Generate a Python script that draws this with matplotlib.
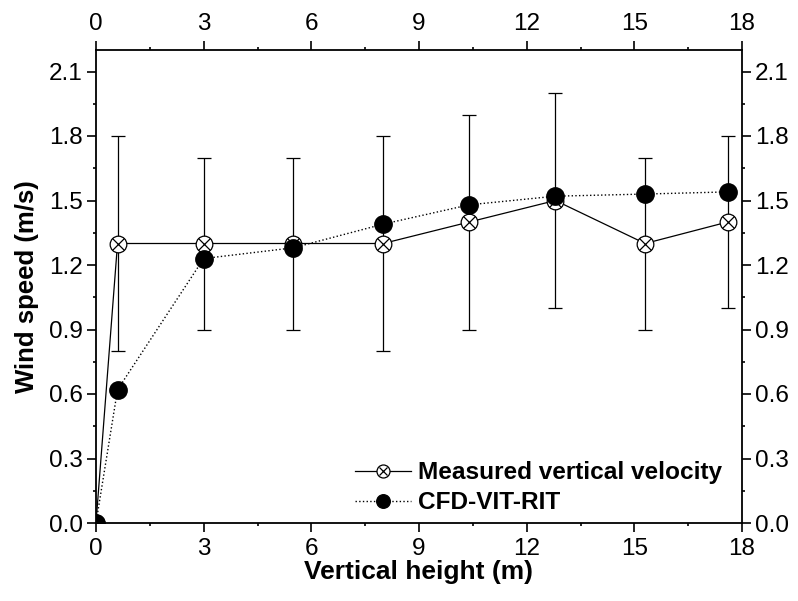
import matplotlib
matplotlib.use("Agg")
import matplotlib.pyplot as plt
from matplotlib.ticker import MultipleLocator
from matplotlib.legend_handler import HandlerTuple

plt.rcParams['font.family'] = ['Liberation Sans', 'DejaVu Sans']

height_meas = [0, 0.6, 3.0, 5.5, 8.0, 10.4, 12.8, 15.3, 17.6]
speed_meas = [0.0, 1.3, 1.3, 1.3, 1.3, 1.4, 1.5, 1.3, 1.4]
err_low = [0.0, 0.8, 0.9, 0.9, 0.8, 0.9, 1.0, 0.9, 1.0]
err_high = [0.0, 1.8, 1.7, 1.7, 1.8, 1.9, 2.0, 1.7, 1.8]

height_cfd = [0, 0.6, 3.0, 5.5, 8.0, 10.4, 12.8, 15.3, 17.6]
speed_cfd = [0.0, 0.62, 1.23, 1.28, 1.39, 1.48, 1.52, 1.53, 1.54]

xticks = [0, 3, 6, 9, 12, 15, 18]
yticks = [0.0, 0.3, 0.6, 0.9, 1.2, 1.5, 1.8, 2.1]

fig = plt.figure(figsize=(7.98, 6.01), dpi=100)
ax = fig.add_axes([96/798, 1-523/601, (742-96)/798, (523-50)/601])

yerr_lo = [s - l for s, l in zip(speed_meas, err_low)]
yerr_hi = [h - s for s, h in zip(speed_meas, err_high)]
ax.errorbar(height_meas[1:], speed_meas[1:], yerr=[yerr_lo[1:], yerr_hi[1:]],
            fmt='none', ecolor='black', elinewidth=0.9, capsize=5, capthick=0.9, zorder=2)

l_meas, = ax.plot(height_meas, speed_meas, '-', color='black', lw=0.9,
                  marker='o', ms=12, mfc='white', mec='black', mew=0.9, zorder=3)
l_x, = ax.plot(height_meas, speed_meas, ls='none', marker='x', ms=8.2, mec='black', mew=0.9, zorder=4)
l_cfd, = ax.plot(height_cfd, speed_cfd, ':', color='black', lw=1.0,
                 marker='o', ms=12.5, mfc='black', mec='black', zorder=5)

ax.set_xlim(0, 18)
ax.set_ylim(0, 2.2)
ax.set_xticks(xticks)
ax.set_yticks(yticks)
ax.set_yticklabels([f"{v:.1f}" for v in yticks])
ax.xaxis.set_minor_locator(MultipleLocator(1.5))
ax.yaxis.set_minor_locator(MultipleLocator(0.15))
ax.tick_params(which='both', direction='out', top=True, right=True,
               labeltop=True, labelright=True, labelsize=17.5, width=1.2)
ax.tick_params(which='major', length=6.5)
ax.tick_params(which='minor', length=2.5)
ax.tick_params(axis='x', which='both', pad=4)
ax.tick_params(axis='y', which='both', pad=3)
for s in ax.spines.values():
    s.set_linewidth(1.3)

ax.set_xlabel('Vertical height (m)', fontsize=19, fontweight='bold', labelpad=0)
ax.set_ylabel('Wind speed (m/s)', fontsize=18.5, fontweight='bold', labelpad=7)

leg = ax.legend([(l_meas, l_x), l_cfd], ['Measured vertical velocity', 'CFD-VIT-RIT'],
                handler_map={tuple: HandlerTuple(ndivide=1, pad=0)},
                loc='lower right', bbox_to_anchor=(0.9925, -0.013), frameon=False,
                prop={'weight': 'bold', 'size': 17.6}, handlelength=2.3,
                handletextpad=0.3, labelspacing=0.3, borderaxespad=0.2,
                markerscale=0.78)

fig.savefig('out.png', dpi=100)
